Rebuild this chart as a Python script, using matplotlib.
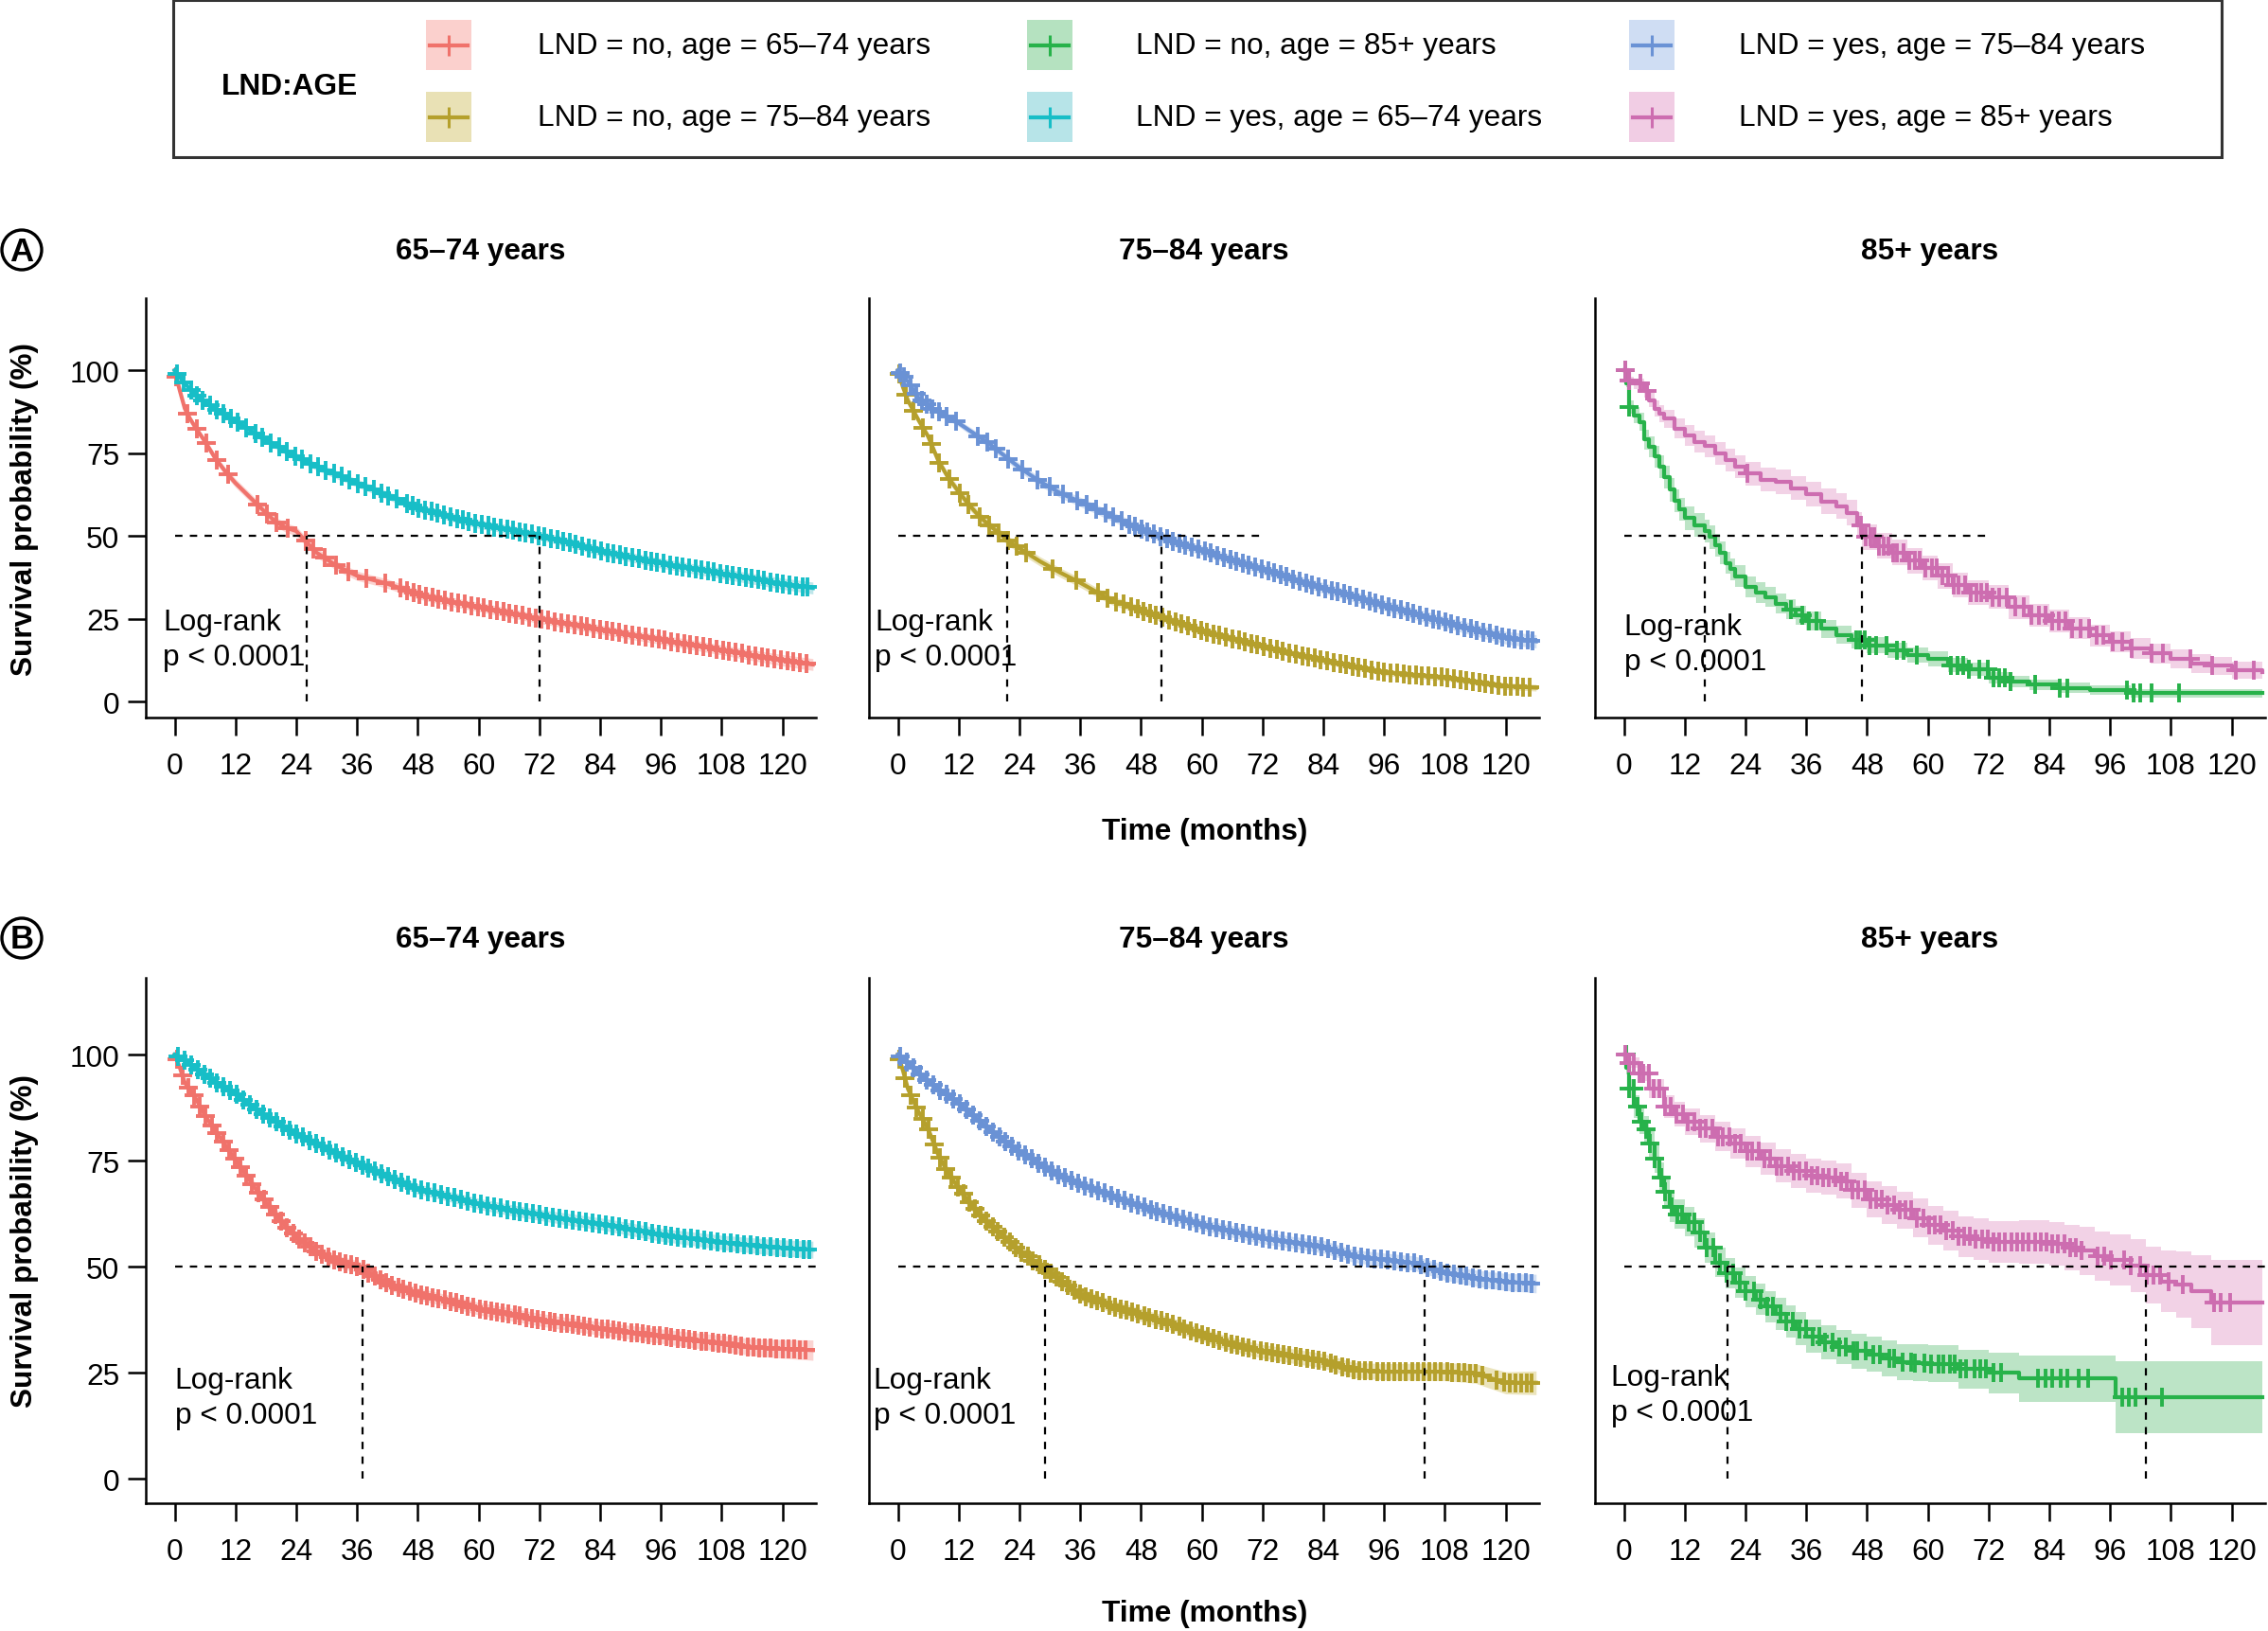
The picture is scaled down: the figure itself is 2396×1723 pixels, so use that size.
import numpy as np
import matplotlib
matplotlib.use('Agg')
import matplotlib.pyplot as plt
from matplotlib.patches import Rectangle, Circle

plt.rcParams['font.family'] = ['Liberation Sans', 'DejaVu Sans']

# ---------------- data (survival %) ----------------
months_big = [0, 1, 2, 3, 4, 6, 8, 10, 12, 14, 16, 18, 20, 22, 24, 28, 32, 36,
              42, 48, 54, 60, 66, 72, 78, 84, 90, 96, 102, 108, 114, 120, 126]

# Panel A, 65-74 years
a1_no = [100, 94, 88.5, 85.5, 83, 78.5, 73.5, 69.5, 66, 63, 60, 57, 54.2, 52.5, 51.5, 45, 41, 38,
         35.6, 32.4, 30.3, 28.6, 26.8, 25, 23.4, 21.8, 20.2, 18.7, 17.2, 15.6, 14, 12.5, 11.2]
a1_no_ci = [0, 0.6, 0.8, 0.9, 1.0, 1.1, 1.2, 1.2, 1.3, 1.3, 1.3, 1.4, 1.4, 1.4, 1.4, 1.4, 1.4, 1.4,
            1.4, 1.4, 1.4, 1.4, 1.4, 1.4, 1.4, 1.4, 1.4, 1.4, 1.5, 1.5, 1.6, 1.7, 1.8]
a1_yes = [100, 98, 96, 94.5, 93, 90.3, 88.5, 86.5, 84.7, 82.8, 80.9, 79, 77.3, 75.6, 74, 71, 68.5, 66,
          62.3, 58.5, 56, 53.6, 52, 50.1, 48, 45.5, 43.6, 41.8, 40.2, 38.7, 37.1, 35.6, 34.3]
a1_yes_ci = [0, 0.3, 0.4, 0.5, 0.6, 0.7, 0.8, 0.8, 0.9, 0.9, 1.0, 1.0, 1.0, 1.1, 1.1, 1.1, 1.2, 1.2,
             1.2, 1.2, 1.3, 1.3, 1.3, 1.3, 1.4, 1.4, 1.4, 1.5, 1.5, 1.6, 1.6, 1.7, 1.8]

# Panel A, 75-84 years
a2_no = [100, 95, 90.9, 88, 85.2, 80, 72.7, 67.5, 63.4, 59.5, 56.1, 53.3, 50.9, 48.3, 46.3, 42.4, 39, 35.9,
         30.7, 27.6, 24.5, 21.4, 19, 16.7, 14.5, 12.5, 10.6, 8.9, 8, 7.3, 6, 4.7, 4.2]
a2_no_ci = [0, 0.7, 0.9, 1.0, 1.1, 1.2, 1.3, 1.3, 1.4, 1.4, 1.4, 1.4, 1.4, 1.4, 1.4, 1.4, 1.4, 1.4,
            1.3, 1.3, 1.3, 1.2, 1.2, 1.1, 1.1, 1.1, 1.0, 1.0, 1.0, 1.0, 1.0, 1.0, 1.0]
a2_yes = [100, 98.3, 96.6, 94.3, 91.9, 89.3, 87.5, 85.8, 84.1, 82, 80, 77.9, 75.5, 73.1, 70.7, 66.5, 63, 60.3,
          56.1, 52, 48.6, 45.7, 42.8, 40, 37.1, 34.3, 31.7, 29.1, 26.5, 24, 21.6, 19.3, 18.2]
a2_yes_ci = [0, 0.3, 0.5, 0.6, 0.7, 0.8, 0.9, 1.0, 1.0, 1.1, 1.1, 1.2, 1.2, 1.2, 1.3, 1.3, 1.4, 1.4,
             1.4, 1.5, 1.5, 1.5, 1.5, 1.5, 1.5, 1.6, 1.6, 1.6, 1.7, 1.7, 1.8, 1.9, 2.0]

# Panel A, 85+ years (step curves, own time points)
a3_no_t = [0, 0.5, 1, 2, 3, 4, 5, 6, 7, 8, 9, 10, 11, 12, 14, 16, 17, 18, 19, 20, 21, 22, 24,
           26, 28, 30, 32, 34, 36, 39, 42, 45, 48, 52, 56, 60, 64, 68, 72, 76, 80, 86, 92, 100, 126]
a3_no = [100, 96, 89, 86.5, 84.4, 79.2, 77, 74, 71, 67.8, 64, 60.6, 58, 55.4, 53.3, 51.5, 49.7, 47.1, 45,
         41.9, 40, 37.8, 34.7, 33, 31.6, 29.5, 27.9, 26, 24.3, 22, 20.2, 18.5, 17, 15.5, 14, 12.9, 11,
         9.8, 7.2, 6, 5.1, 4.2, 3.6, 2.5, 2.5]
a3_no_ci = [0, 1.2, 2, 2.4, 2.7, 3, 3.2, 3.3, 3.4, 3.5, 3.5, 3.5, 3.5, 3.5, 3.5, 3.5, 3.5, 3.4, 3.4,
            3.4, 3.3, 3.3, 3.2, 3.2, 3.1, 3.0, 3.0, 2.9, 2.8, 2.7, 2.6, 2.5, 2.5, 2.4, 2.3, 2.2, 2.1,
            2.0, 1.8, 1.7, 1.6, 1.5, 1.4, 1.3, 1.3]
a3_yes_t = [0, 1, 2, 4, 5, 6, 7, 8, 10, 12, 14, 16, 18, 20, 22, 24, 27, 30, 33, 36, 39, 42, 44,
            46, 47, 50, 53, 56, 59, 62, 65, 68, 72, 76, 80, 84, 88, 92, 96, 100, 104, 108, 112,
            116, 120, 126]
a3_yes = [100, 96.8, 96, 93.7, 91, 88.5, 87, 85.4, 82.5, 80.3, 78.5, 77.2, 75, 73, 71, 68.9, 67, 66.3,
          64.5, 62.6, 60.5, 59, 57, 53.3, 49.7, 47, 45, 42.5, 40.4, 38, 35.2, 33, 31.6, 28.5, 26, 24.3,
          22.2, 20, 18.1, 16, 14.5, 12.9, 11.5, 10.8, 9.5, 8.8]
a3_yes_ci = [0, 1.2, 1.5, 2, 2.2, 2.5, 2.6, 2.8, 3, 3.1, 3.2, 3.3, 3.4, 3.5, 3.5, 3.6, 3.6, 3.7,
             3.7, 3.7, 3.8, 3.8, 3.8, 3.8, 3.8, 3.8, 3.8, 3.8, 3.8, 3.8, 3.7, 3.7, 3.6, 3.6, 3.5,
             3.5, 3.4, 3.3, 3.2, 3.1, 3.0, 2.9, 2.8, 2.7, 2.6, 2.5]

# Panel B, 65-74 years
b1_no = [100, 97, 93.4, 91.7, 90, 85.6, 82.1, 78.7, 75.2, 71.7, 68.3, 65.2, 62.2, 59.5, 57, 53.6, 51.2, 50.1,
         46, 43.6, 41.9, 40.1, 38.8, 37.5, 36.4, 35.4, 34.5, 33.6, 32.7, 31.9, 31, 30.6, 30.3]
b1_no_ci = [0, 0.5, 0.7, 0.8, 0.9, 1.0, 1.1, 1.2, 1.2, 1.3, 1.3, 1.3, 1.4, 1.4, 1.4, 1.4, 1.4, 1.4,
            1.4, 1.4, 1.4, 1.5, 1.5, 1.5, 1.5, 1.6, 1.6, 1.7, 1.8, 1.9, 2.0, 2.2, 2.4]
b1_yes = [100, 99.3, 98.6, 97.7, 96.8, 95.1, 93.7, 92.2, 90.8, 89, 87.3, 85.6, 84.2, 82.7, 81.3, 79, 76.6, 74.4,
          71.3, 68.3, 66.6, 64.8, 63.4, 62.2, 61.1, 60.1, 58.8, 57.5, 56.6, 55.7, 55, 54.4, 54]
b1_yes_ci = [0, 0.3, 0.4, 0.5, 0.5, 0.6, 0.7, 0.7, 0.8, 0.8, 0.9, 0.9, 1.0, 1.0, 1.0, 1.1, 1.1, 1.1,
             1.2, 1.2, 1.2, 1.3, 1.3, 1.3, 1.4, 1.4, 1.5, 1.5, 1.6, 1.7, 1.8, 1.9, 2.0]

# Panel B, 75-84 years
b2_no = [100, 96.3, 91.9, 89.3, 86.7, 82.4, 76.3, 72, 68.5, 65.4, 62.5, 60.2, 58.1, 55.9, 53.8, 50.3, 46.9, 43.4,
         40.8, 38.6, 36.5, 33.9, 31.7, 30, 28.9, 27.8, 25.6, 25.2, 25.2, 25.2, 24.8, 22.6, 22.6]
b2_no_ci = [0, 0.6, 0.8, 0.9, 1.0, 1.1, 1.2, 1.3, 1.3, 1.4, 1.4, 1.4, 1.5, 1.5, 1.5, 1.5, 1.5, 1.5,
            1.5, 1.5, 1.5, 1.5, 1.6, 1.6, 1.7, 1.7, 1.8, 1.9, 2.0, 2.1, 2.3, 2.6, 2.8]
b2_yes = [100, 99, 98, 96.9, 95.8, 93.7, 91.9, 90.2, 88.5, 86.5, 84.4, 82.4, 80.7, 78.9, 77.2, 74.3, 71.5, 69.4,
          66.8, 64.2, 62, 59.9, 58.3, 56.8, 55.7, 54.7, 52.5, 51.6, 50.8, 48.6, 47.3, 46.4, 46]
b2_yes_ci = [0, 0.3, 0.4, 0.5, 0.6, 0.7, 0.8, 0.8, 0.9, 0.9, 1.0, 1.0, 1.0, 1.1, 1.1, 1.1, 1.2, 1.2,
             1.2, 1.3, 1.3, 1.3, 1.4, 1.4, 1.4, 1.5, 1.5, 1.6, 1.7, 1.8, 1.9, 2.0, 2.2]

# Panel B, 85+ years (step curves)
b3_no_t = [0, 0.5, 1, 2, 3, 4, 5, 6, 7, 8, 9, 10, 12, 14, 16, 18, 20, 22, 24, 26, 28, 30, 32,
           34, 36, 39, 42, 45, 48, 51, 54, 57, 60, 66, 72, 78, 97, 126]
b3_no = [100, 96.8, 92, 87.7, 84.2, 82.4, 79, 75.5, 71.1, 67.6, 64.1, 62.4, 60.6, 58, 54.5, 51, 48.4,
         46.2, 44.1, 42.3, 40.6, 38.8, 37.1, 35.3, 33.6, 32.2, 31, 30.1, 29.3, 28.4, 27.5, 27.3, 27.1,
         25.8, 24.9, 23.6, 19.2, 19.2]
b3_no_ci = [0, 1.5, 2.2, 2.7, 3, 3.1, 3.2, 3.3, 3.4, 3.4, 3.5, 3.5, 3.5, 3.5, 3.5, 3.5, 3.6, 3.6,
            3.6, 3.7, 3.7, 3.8, 3.8, 3.9, 3.9, 4.0, 4.0, 4.1, 4.1, 4.2, 4.2, 4.3, 4.3, 4.5, 4.7,
            5.5, 8.5, 8.5]
b3_yes_t = [0, 1, 3, 5, 8, 10, 12, 15, 18, 21, 24, 27, 30, 33, 36, 39, 42, 45, 48, 51, 54, 57, 60,
            63, 66, 69, 72, 78, 84, 87, 90, 93, 96, 100, 103, 106, 109, 112, 116, 126]
b3_yes = [100, 98.1, 95.5, 92, 87.7, 86, 84.2, 82.5, 80.7, 79, 77.2, 75.5, 73.7, 72.5, 71.5, 71, 70.2,
          68, 65.9, 64.5, 63.3, 61.5, 59.8, 58.5, 57.1, 56.4, 55.8, 55.8, 55.4, 54.5, 53.7, 52.5, 51.5,
          50.2, 48, 46.5, 45.8, 44.1, 41.5, 41.5]
b3_yes_ci = [0, 1.2, 1.8, 2.3, 2.7, 2.9, 3.1, 3.3, 3.5, 3.6, 3.7, 3.8, 3.9, 4.0, 4.0, 4.1, 4.1, 4.2,
             4.3, 4.4, 4.4, 4.5, 4.6, 4.7, 4.8, 4.9, 5.0, 5.1, 5.2, 5.4, 5.6, 5.8, 6.0, 6.3, 6.7,
             7.2, 7.8, 8.5, 10.0, 10.0]

# censoring times (months)
a1_no_cens = [0.3, 2.5, 4.3, 6.2, 8.3, 10.5, 16.4, 18.2, 20.1, 22.3, 25.8, 27.4, 29.6, 31.9, 34.2, 37.8,
              41.5, 44.6, 45.8, 47.1, 48.3, 49.6, 50.9, 52.1, 53.4, 54.7, 56.0, 57.2, 58.5, 59.8, 61.0,
              62.3, 63.6, 64.9, 66.1, 67.4, 68.7, 70.0, 71.2, 72.5, 73.8, 75.1, 76.3, 77.6, 78.9, 80.2,
              81.4, 82.7, 84.0, 85.3, 86.5, 87.8, 89.1, 90.4, 91.6, 92.9, 94.2, 95.5, 96.7, 98.0, 99.3,
              100.6, 101.8, 103.1, 104.4, 105.7, 106.9, 108.2, 109.5, 110.8, 112.0, 113.3, 114.6, 115.9,
              117.1, 118.4, 119.7, 121.0, 122.2, 123.5, 124.8]
a1_yes_cens = [0.5, 1.8, 3.2, 4.4, 5.6, 7.0, 8.3, 9.7, 11.2, 12.5, 14.1, 15.9, 17.3, 19.0, 20.6, 22.1,
               23.8, 25.2, 26.9, 28.3, 29.8, 31.4, 32.9, 34.5, 36.2, 37.6, 39.3, 40.8, 42.2, 43.9, 45.9,
               47.0, 48.2, 49.5, 50.7, 51.9, 53.2, 54.4, 55.7, 56.9, 58.1, 59.4, 60.6, 61.9, 63.1, 64.3,
               65.6, 66.8, 68.1, 69.3, 70.5, 71.8, 73.0, 74.3, 75.5, 76.7, 78.0, 79.2, 80.5, 81.7, 82.9,
               84.2, 85.4, 86.7, 87.9, 89.1, 90.4, 91.6, 92.9, 94.1, 95.3, 96.6, 97.8, 99.1, 100.3,
               101.5, 102.8, 104.0, 105.3, 106.5, 107.7, 109.0, 110.2, 111.5, 112.7, 113.9, 115.2,
               116.4, 117.7, 118.9, 120.1, 121.4, 122.6, 123.9, 125.0]
a2_no_cens = [0.2, 1.6, 3.1, 5.0, 6.6, 8.2, 10.1, 12.3, 14.0, 16.2, 18.1, 19.9, 21.7, 23.4, 25.3, 30.6,
              35.2, 39.5, 41.3, 43.0, 44.6, 46.0, 47.3, 48.5, 49.8, 51.0, 52.3, 53.5, 54.8, 56.0, 57.3,
              58.5, 59.8, 61.0, 62.3, 63.5, 64.8, 66.0, 67.3, 68.5, 69.8, 71.0, 72.3, 73.5, 74.8, 76.0,
              77.3, 78.5, 79.8, 81.0, 82.3, 83.5, 84.8, 86.0, 87.3, 88.5, 89.8, 91.0, 92.3, 93.5, 94.8,
              96.0, 97.3, 98.5, 99.8, 101.0, 102.3, 103.5, 104.8, 106.0, 107.3, 108.5, 109.8, 111.0,
              112.3, 113.5, 114.8, 116.0, 117.3, 118.5, 119.8, 121.0, 122.3, 123.5, 124.8]
a2_yes_cens = [0.4, 1.2, 2.5, 3.6, 4.8, 5.7, 6.9, 8.1, 9.6, 11.5, 15.8, 17.6, 19.4, 21.8, 24.6, 27.5,
               29.9, 32.7, 35.4, 37.2, 39.1, 41.0, 42.6, 44.2, 45.6, 46.8, 48.1, 49.3, 50.6, 51.8, 53.1,
               54.3, 55.6, 56.8, 58.1, 59.3, 60.6, 61.8, 63.1, 64.3, 65.6, 66.8, 68.1, 69.3, 70.6, 71.8,
               73.1, 74.3, 75.6, 76.8, 78.1, 79.3, 80.6, 81.8, 83.1, 84.3, 85.6, 86.8, 88.1, 89.3, 90.6,
               91.8, 93.1, 94.3, 95.6, 96.8, 98.1, 99.3, 100.6, 101.8, 103.1, 104.3, 105.6, 106.8,
               108.1, 109.3, 110.6, 111.8, 113.1, 114.3, 115.6, 116.8, 118.1, 119.3, 120.6, 121.8,
               123.1, 124.3, 125.2]
a3_no_cens = [0.3, 1.0, 33.0, 35.2, 36.6, 38.0, 45.8, 46.7, 47.6, 48.5, 49.8, 51.9, 54.0, 55.2, 57.8,
              64.6, 65.8, 67.0, 68.2, 70.1, 71.9, 73.0, 74.1, 75.3, 76.4, 81.2, 86.0, 87.6, 99.4, 100.6,
              101.9, 104.1, 109.6]
a3_yes_cens = [0.2, 1.1, 3.2, 4.6, 24.4, 46.9, 47.8, 48.6, 49.5, 50.4, 51.3, 52.2, 53.1, 54.0, 55.2,
               56.3, 57.5, 58.4, 59.6, 60.8, 61.7, 62.9, 64.0, 65.2, 66.1, 67.3, 68.4, 69.6, 70.5, 71.7,
               72.8, 74.0, 75.6, 77.3, 79.0, 80.4, 81.9, 83.3, 84.6, 85.8, 87.1, 88.5, 90.2, 91.9, 93.4,
               94.7, 96.5, 98.4, 100.3, 104.2, 106.4, 111.8, 116.2, 120.9, 124.3]
b1_no_cens = [0.4, 1.5, 2.7, 3.8, 5.0, 6.1, 7.3, 8.4, 9.6, 10.7, 11.9, 13.0, 14.2, 15.3, 16.5, 17.6,
              18.8, 19.9, 21.1, 22.2, 23.4, 24.5, 25.7, 26.8, 28.0, 29.1, 30.3, 31.4, 32.6, 33.7, 34.9,
              36.0, 37.2, 38.3, 39.5, 40.6, 41.8, 42.9, 44.1, 45.2, 46.4, 47.5, 48.7, 49.8, 51.0, 52.1,
              53.3, 54.4, 55.6, 56.7, 57.9, 59.0, 60.2, 61.3, 62.5, 63.6, 64.8, 65.9, 67.1, 68.2, 69.4,
              70.5, 71.7, 72.8, 74.0, 75.1, 76.3, 77.4, 78.6, 79.7, 80.9, 82.0, 83.2, 84.3, 85.5, 86.6,
              87.8, 88.9, 90.1, 91.2, 92.4, 93.5, 94.7, 95.8, 97.0, 98.1, 99.3, 100.4, 101.6, 102.7,
              103.9, 105.0, 106.2, 107.3, 108.5, 109.6, 110.8, 111.9, 113.1, 114.2, 115.4, 116.5, 117.7,
              118.8, 120.0, 121.1, 122.3, 123.4, 124.6]
b1_yes_cens = [0.6, 1.9, 3.2, 4.5, 5.8, 7.1, 8.4, 9.7, 11.0, 12.3, 13.6, 14.9, 16.2, 17.5, 18.8, 20.1,
               21.4, 22.7, 24.0, 25.3, 26.6, 27.9, 29.2, 30.5, 31.8, 33.1, 34.4, 35.7, 37.0, 38.3, 39.6,
               40.9, 42.2, 43.5, 44.8, 46.1, 47.4, 48.7, 50.0, 51.3, 52.6, 53.9, 55.2, 56.5, 57.8, 59.1,
               60.4, 61.7, 63.0, 64.3, 65.6, 66.9, 68.2, 69.5, 70.8, 72.1, 73.4, 74.7, 76.0, 77.3, 78.6,
               79.9, 81.2, 82.5, 83.8, 85.1, 86.4, 87.7, 89.0, 90.3, 91.6, 92.9, 94.2, 95.5, 96.8, 98.1,
               99.4, 100.7, 102.0, 103.3, 104.6, 105.9, 107.2, 108.5, 109.8, 111.1, 112.4, 113.7, 115.0,
               116.3, 117.6, 118.9, 120.2, 121.5, 122.8, 124.1, 125.2]
b2_no_cens = [0.3, 1.4, 2.6, 3.7, 4.9, 6.0, 7.2, 8.3, 9.5, 10.6, 11.8, 12.9, 14.1, 15.2, 16.4, 17.5,
              18.7, 19.8, 21.0, 22.1, 23.3, 24.4, 25.6, 26.7, 27.9, 29.0, 30.2, 31.3, 32.5, 33.6, 34.8,
              35.9, 37.1, 38.2, 39.4, 40.5, 41.7, 42.8, 44.0, 45.1, 46.3, 47.4, 48.6, 49.7, 50.9, 52.0,
              53.2, 54.3, 55.5, 56.6, 57.8, 58.9, 60.1, 61.2, 62.4, 63.5, 64.7, 65.8, 67.0, 68.1, 69.3,
              70.4, 71.6, 72.7, 73.9, 75.0, 76.2, 77.3, 78.5, 79.6, 80.8, 81.9, 83.1, 84.2, 85.4, 86.5,
              87.7, 88.8, 90.0, 91.1, 92.3, 93.4, 94.6, 95.7, 96.9, 98.0, 99.2, 100.3, 101.5, 102.6,
              103.8, 104.9, 106.1, 107.2, 108.4, 109.5, 110.7, 111.8, 113.0, 114.1, 115.3, 118.2, 119.6,
              120.8, 121.9, 123.1, 124.2, 125.1]
b2_yes_cens = [0.5, 1.8, 3.1, 4.4, 5.7, 7.0, 8.3, 9.6, 10.9, 12.2, 13.5, 14.8, 16.1, 17.4, 18.7, 20.0,
               21.3, 22.6, 23.9, 25.2, 26.5, 27.8, 29.1, 30.4, 31.7, 33.0, 34.3, 35.6, 36.9, 38.2, 39.5,
               40.8, 42.1, 43.4, 44.7, 46.0, 47.3, 48.6, 49.9, 51.2, 52.5, 53.8, 55.1, 56.4, 57.7, 59.0,
               60.3, 61.6, 62.9, 64.2, 65.5, 66.8, 68.1, 69.4, 70.7, 72.0, 73.3, 74.6, 75.9, 77.2, 78.5,
               79.8, 81.1, 82.4, 83.7, 85.0, 86.3, 87.6, 88.9, 90.2, 91.5, 92.8, 94.1, 95.4, 96.7, 98.0,
               99.3, 100.6, 101.9, 103.2, 104.5, 105.8, 107.1, 108.4, 109.7, 111.0, 112.3, 113.6, 114.9,
               116.2, 117.5, 118.8, 120.1, 121.4, 122.7, 124.0, 125.1]
b3_no_cens = [0.4, 1.0, 1.9, 2.8, 3.5, 4.3, 5.2, 6.1, 7.3, 8.2, 9.4, 10.6, 11.5, 12.8, 13.9, 15.1, 16.4,
              17.6, 18.9, 20.3, 21.5, 22.8, 24.1, 25.6, 27.0, 28.3, 29.4, 30.9, 32.1, 33.4, 34.7, 35.9,
              37.2, 38.6, 39.8, 41.2, 42.5, 43.8, 45.3, 46.1, 47.8, 49.2, 50.6, 52.4, 53.3, 55.0, 56.7,
              57.5, 59.3, 60.6, 62.1, 63.0, 64.4, 65.3, 66.5, 67.6, 69.2, 70.3, 71.4, 72.9, 74.5, 81.8,
              83.2, 84.6, 86.3, 87.5, 89.8, 91.6, 98.4, 99.6, 101.0, 106.2]
b3_yes_cens = [0.3, 1.1, 2.0, 3.0, 3.9, 4.9, 5.9, 7.0, 8.1, 9.3, 10.4, 11.6, 12.7, 13.9, 15.0, 16.2,
               17.4, 18.5, 19.6, 20.8, 21.9, 23.1, 24.3, 25.4, 26.6, 27.7, 28.9, 30.1, 31.2, 32.4, 33.5,
               34.7, 35.9, 37.0, 38.2, 39.3, 40.5, 41.7, 42.8, 44.0, 45.1, 46.3, 47.5, 48.6, 49.8, 50.9,
               52.1, 53.3, 54.4, 55.6, 56.7, 57.9, 59.1, 60.2, 61.4, 62.5, 63.7, 64.9, 66.0, 67.2, 68.3,
               69.5, 70.7, 71.8, 73.0, 74.1, 75.3, 76.5, 77.6, 78.8, 79.9, 81.1, 82.3, 83.4, 84.6, 85.7,
               86.9, 88.1, 89.2, 90.4, 93.6, 94.8, 96.2, 98.8, 100.1, 101.9, 103.2, 104.5, 105.9, 107.5,
               110.3, 116.6, 117.8, 119.7]

# median survival (months) per panel, drawn as dashed guides
a_medians = [[26, 72], [21.6, 52], [16, 47]]
b_medians = [[37], [29, 104], [20.5, 103]]
a_hline_end = 72

age_titles = ['65\u201374 years', '75\u201384 years', '85+ years']
legend_labels = ['LND = no, age = 65\u201374 years', 'LND = no, age = 75\u201384 years',
                 'LND = no, age = 85+ years', 'LND = yes, age = 65\u201374 years',
                 'LND = yes, age = 75\u201384 years', 'LND = yes, age = 85+ years']
line_colors = ['#F0726B', '#B5A02C', '#27B24A', '#17BEC7', '#6A92D5', '#CD6DB0']
band_colors = ['#FBD0CD', '#E9E1B5', '#B5E2C0', '#B7E4E8', '#CFDDF3', '#F1CDE4']

# ---------------- layout ----------------
W, H = 2396, 1724
fig = plt.figure(figsize=(W / 200, H / 200), dpi=200)
FS = 11.4

col_left = [154, 918, 1685]
ax_w = 708
row_box = [(316, 759), (1034, 1589)]
row_ylim = [(-4.8, 121.8), (-5.8, 118.1)]
xlim = (-5.7, 126.6)

logrank_pos = [[(-2.3, 18.8), (-4.5, 18.8), (0.0, 17.4)],
               [(0.0, 19.0), (-4.8, 19.0), (-2.6, 19.7)]]

panels = [
    [(months_big, a1_no, a1_no_ci, a1_no_cens, 0), (months_big, a1_yes, a1_yes_ci, a1_yes_cens, 3)],
    [(months_big, a2_no, a2_no_ci, a2_no_cens, 1), (months_big, a2_yes, a2_yes_ci, a2_yes_cens, 4)],
    [(a3_no_t, a3_no, a3_no_ci, a3_no_cens, 2), (a3_yes_t, a3_yes, a3_yes_ci, a3_yes_cens, 5)],
    [(months_big, b1_no, b1_no_ci, b1_no_cens, 0), (months_big, b1_yes, b1_yes_ci, b1_yes_cens, 3)],
    [(months_big, b2_no, b2_no_ci, b2_no_cens, 1), (months_big, b2_yes, b2_yes_ci, b2_yes_cens, 4)],
    [(b3_no_t, b3_no, b3_no_ci, b3_no_cens, 2), (b3_yes_t, b3_yes, b3_yes_ci, b3_yes_cens, 5)],
]


def draw_curve(ax, t, s, ci, cens, k, step):
    t = np.asarray(t, float)
    s = np.asarray(s, float)
    ci = np.asarray(ci, float)
    cens = np.asarray(cens, float)
    assert len(t) == len(s) == len(ci), (len(t), len(s), len(ci))
    if step:
        ax.fill_between(t, s - ci, s + ci, step='post', color=band_colors[k], lw=0, alpha=0.9)
        ax.step(t, s, where='post', color=line_colors[k], lw=1.5)
        yc = s[np.searchsorted(t, cens, side='right') - 1]
    else:
        ax.fill_between(t, s - ci, s + ci, color=band_colors[k], lw=0, alpha=0.9)
        ax.plot(t, s, color=line_colors[k], lw=1.5)
        yc = np.interp(cens, t, s)
    ax.plot(cens, yc, ls='none', marker='+', ms=7.5, mew=1.4, color=line_colors[k])


for r in range(2):
    top, bot = row_box[r]
    meds = a_medians if r == 0 else b_medians
    for c in range(3):
        ax = fig.add_axes([col_left[c] / W, 1 - bot / H, ax_w / W, (bot - top) / H])
        for t, s, ci, cens, k in panels[r * 3 + c]:
            draw_curve(ax, t, s, ci, cens, k, step=(c == 2))
        hend = a_hline_end if r == 0 else xlim[1]
        ax.plot([0, hend], [50, 50], color='black', lw=0.8, ls=(0, (3.5, 3.5)))
        for m in meds[c]:
            ax.plot([m, m], [0, 50], color='black', lw=0.8, ls=(0, (3.5, 3.5)))
        lx, ly = logrank_pos[r][c]
        ax.text(lx, ly, 'Log-rank\np < 0.0001', ha='left', va='center', fontsize=FS,
                linespacing=1.3)
        ax.set_xlim(*xlim)
        ax.set_ylim(*row_ylim[r])
        ax.set_xticks(range(0, 121, 12))
        for side in ('top', 'right'):
            ax.spines[side].set_visible(False)
        for side in ('left', 'bottom'):
            ax.spines[side].set_linewidth(0.9)
        ax.tick_params(axis='x', direction='out', length=7, width=0.9, pad=6, labelsize=FS)
        if c == 0:
            ax.set_yticks([0, 25, 50, 75, 100])
            ax.tick_params(axis='y', direction='out', length=7, width=0.9, pad=3, labelsize=FS)
        else:
            ax.set_yticks([])
        fig.text((col_left[c] + ax_w / 2) / W, 1 - (266 if r == 0 else 993) / H, age_titles[c],
                 ha='center', va='center', fontsize=FS, fontweight='bold')
    fig.text(26 / W, 1 - (top + bot) / 2 / H, 'Survival probability (%)', rotation=90,
             ha='center', va='center', fontsize=FS, fontweight='bold')
    fig.text(1273 / W, 1 - (879 if r == 0 else 1705) / H, 'Time (months)',
             ha='center', va='center', fontsize=FS, fontweight='bold')

# ---------------- legend & panel letters (overlay in pixel coords) ----------------
lax = fig.add_axes([0, 0, 1, 1])
lax.set_xlim(0, W)
lax.set_ylim(H, 0)
lax.axis('off')
lax.add_patch(Rectangle((183, 1), 2164, 166, fill=False, ec='#333333', lw=1.1))
lax.text(234, 92, 'LND:AGE', ha='left', va='center', fontsize=FS, fontweight='bold')

key_x = [474, 1109, 1745]
text_x = [568, 1200, 1837]
row_y = [49, 125]
for i, lab in enumerate(legend_labels):
    col, row = divmod(i, 2)
    kx, ky = key_x[col], row_y[row]
    lax.add_patch(Rectangle((kx - 24, ky - 27), 48, 53, color=band_colors[i], lw=0))
    lax.plot([kx - 20, kx + 20], [ky, ky], color=line_colors[i], lw=1.5)
    lax.plot([kx], [ky], marker='+', ms=8, mew=1.1, color=line_colors[i])
    lax.text(text_x[col], ky, lab, ha='left', va='center', fontsize=FS)

for letter, cy in (('A', 265), ('B', 992)):
    lax.add_patch(Circle((23, cy), 21, fill=False, ec='black', lw=1.2))
    lax.text(23, cy + 1, letter, ha='center', va='center', fontsize=12.5, fontweight='bold')

fig.savefig('out.png', dpi=200)
